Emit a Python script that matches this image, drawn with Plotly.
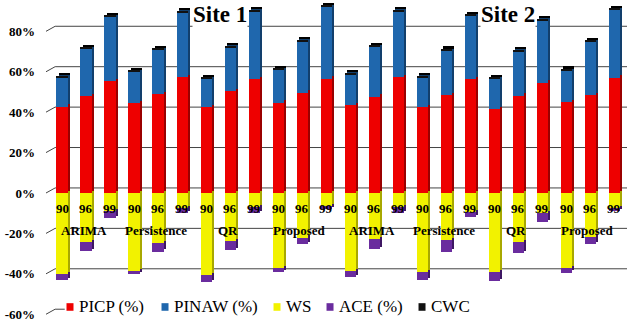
import plotly.graph_objects as go

# ---- data -------------------------------------------------------------
sites = ["Site 1", "Site 2"]
methods = ["ARIMA", "Persistence", "QR", "Proposed"]
levels = ["90", "96", "99"]

picp = [42.7, 48.0, 55.4, 44.4, 49.0, 57.3, 42.4, 50.6, 56.4, 44.7, 49.7, 56.6,
        43.4, 47.7, 57.3, 42.4, 48.5, 56.3, 41.4, 48.2, 54.6, 44.9, 48.5, 57.1]
pinaw = [14.4, 23.1, 31.6, 15.6, 21.8, 32.0, 13.9, 21.3, 33.4, 16.2, 25.2, 35.3,
         15.2, 24.4, 32.5, 14.7, 21.9, 31.3, 14.9, 21.8, 30.7, 15.6, 26.1, 33.5]
cwc = [1.0] * 24
ws = [-40.3, -24.4, -8.9, -38.6, -24.9, -7.3, -40.6, -23.8, -6.8, -37.3, -22.1, -6.3,
      -38.6, -22.8, -6.8, -39.3, -23.3, -9.3, -39.0, -24.4, -10.0, -37.3, -21.6, -7.3]
ace = [-2.7, -4.2, -3.6, -1.5, -4.1, -2.7, -3.3, -4.4, -3.2, -2.0, -3.3, -1.6,
       -3.0, -5.1, -3.2, -3.8, -5.7, -2.7, -4.6, -5.5, -4.5, -2.1, -3.8, -1.5]

y_ticks = [-60, -40, -20, 0, 20, 40, 60, 80]

# ---- style constants --------------------------------------------------
SERIF = "Liberation Serif, Times New Roman, serif"
X0, X1 = -0.667, 23.54          # category axis range
Y0, Y1 = -66.8, 95.5            # value axis range
PX_X = 24.0                     # pixels per category unit
PX_Y = 2.02                     # pixels per percent
DEPTH_X, DEPTH_Y = 0.38, 2.5    # back-wall offset of the gridlines
SIDE_DX, SIDE_DY = 0.12, 1.1    # offset of the shaded bar depth faces
BAR_W = 0.46

xs = list(range(len(picp)))
level_labels = [lv for _ in sites for _ in methods for lv in levels]

# name, values, face colour, depth colour
series = [
    ("PICP (%)", picp, "#ee0000", "#9a0000"),
    ("PINAW (%)", pinaw, "#1f67ad", "#123f6c"),
    ("WS", ws, "#f2f200", "#a8a800"),
    ("ACE (%)", ace, "#6a2c9e", "#3e1763"),
    ("CWC", cwc, "#111111", "#000000"),
]

# stacked bases: positive values stack upward, negative ones downward
pos_top = [0.0] * len(xs)
neg_top = [0.0] * len(xs)
bases = []
for name, vals, _, _ in series:
    b = []
    for i, v in enumerate(vals):
        if v >= 0:
            b.append(pos_top[i])
            pos_top[i] += v
        else:
            b.append(neg_top[i])
            neg_top[i] += v
    bases.append(b)

fig = go.Figure()

# depth faces (drawn first, slightly right and up)
for (name, vals, face, side), b in zip(series, bases):
    fig.add_trace(go.Bar(
        x=[x + SIDE_DX for x in xs], y=vals, base=[bb + SIDE_DY for bb in b],
        width=BAR_W, marker=dict(color=side, line=dict(width=0)),
        showlegend=False, hoverinfo="skip",
    ))
# front faces
for (name, vals, face, side), b in zip(series, bases):
    fig.add_trace(go.Bar(
        x=xs, y=vals, base=b, name=name, width=BAR_W,
        marker=dict(color=face, line=dict(width=0)), showlegend=False,
    ))

shapes = []
# back-wall gridlines with slanted connectors to the tick labels
for v in y_ticks:
    shapes.append(dict(type="line", xref="x", yref="y", layer="below",
                       x0=X0, y0=v, x1=X0 + DEPTH_X, y1=v + DEPTH_Y,
                       line=dict(color="#444444", width=1)))
    x_end = X1 if v > y_ticks[0] else X0 + DEPTH_X + 0.4
    shapes.append(dict(type="line", xref="x", yref="y", layer="below",
                       x0=X0 + DEPTH_X, y0=v + DEPTH_Y, x1=x_end, y1=v + DEPTH_Y,
                       line=dict(color="#444444", width=1)))

annotations = []
# confidence level under each bar
for x, lab in zip(xs, level_labels):
    annotations.append(dict(x=x, y=-7.6, text="<b>%s</b>" % lab, showarrow=False,
                            font=dict(family=SERIF, size=13, color="black"),
                            xref="x", yref="y"))
# method names under each group
for s in range(len(sites)):
    for m, meth in enumerate(methods):
        cx = s * 12 + m * 3 + 1 - 0.1
        annotations.append(dict(x=cx, y=-18.8, text="<b>%s</b>" % meth, showarrow=False,
                                font=dict(family=SERIF, size=13, color="black"),
                                xref="x", yref="y"))
# site titles on a white box
for s, site in enumerate(sites):
    cx = s * 12 + 6.6
    annotations.append(dict(x=cx, y=88.5, text="<b>%s</b>" % site, showarrow=False,
                            font=dict(family=SERIF, size=23, color="black"),
                            bgcolor="white", borderpad=0,
                            xref="x", yref="y"))

# legend row: swatch + label per series
legend_px = [70, 165, 277, 330, 422]   # swatch centres (pixels from the left edge)
legend_y = -56.4
for (name, vals, face, side), px in zip(series, legend_px):
    cx = X0 + (px - 46) / PX_X
    hw, hh = 3.5 / PX_X, 3.8 / PX_Y
    shapes.append(dict(type="rect", xref="x", yref="y", layer="above",
                       x0=cx - hw, x1=cx + hw, y0=legend_y - hh, y1=legend_y + hh,
                       fillcolor=face, line=dict(width=0)))
    annotations.append(dict(x=cx + 7 / PX_X, y=legend_y, text=name, showarrow=False,
                            xanchor="left", yanchor="middle",
                            font=dict(family=SERIF, size=17, color="black"),
                            xref="x", yref="y"))

fig.update_layout(
    width=627, height=328,
    margin=dict(l=46, r=0, t=0, b=0),
    paper_bgcolor="white", plot_bgcolor="white",
    barmode="overlay", bargap=0,
    showlegend=False,
    xaxis=dict(range=[X0, X1], showgrid=False, zeroline=False, showticklabels=False,
               showline=False, ticks=""),
    yaxis=dict(range=[Y0, Y1], showgrid=False, zeroline=False, showline=False,
               tickvals=y_ticks, ticktext=["<b>%d%%</b>" % v for v in y_ticks],
               tickfont=dict(family=SERIF, size=13, color="black"),
               ticks="", ticklabelstandoff=10),
    shapes=shapes,
    annotations=annotations,
)

fig.write_html("out.html")
